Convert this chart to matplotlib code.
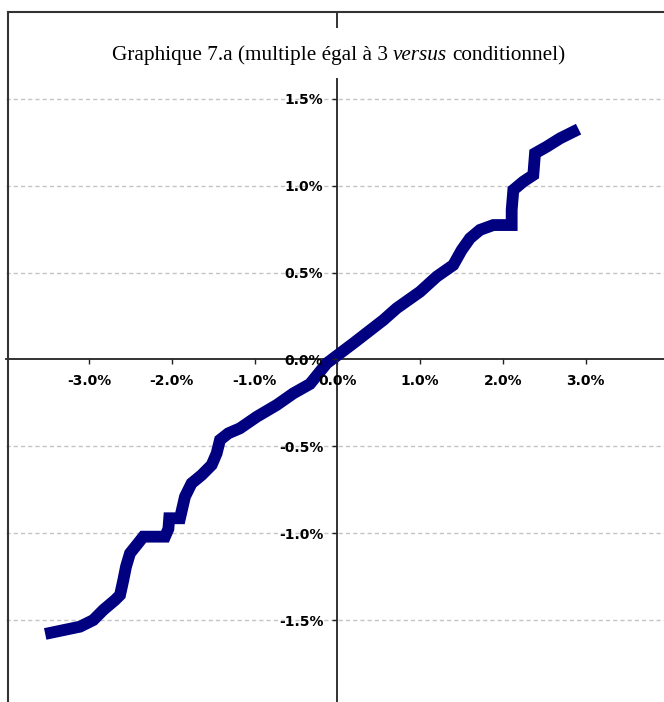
import matplotlib
matplotlib.use('Agg')
import matplotlib.pyplot as plt
from matplotlib.lines import Line2D
from matplotlib.patches import Rectangle

# ---------------- data (percent) ----------------
curve_x = [-3.458, -3.107, -2.947, -2.826, -2.685, -2.624, -2.584, -2.552, -2.504,
           -2.423, -2.343, -2.081, -2.040, -2.030, -1.900, -1.840, -1.760, -1.638,
           -1.517, -1.457, -1.417, -1.316, -1.175, -0.974, -0.732, -0.531,
           -0.330, -0.128, 0.193, 0.556, 0.717, 0.999, 1.200, 1.401, 1.502, 1.603,
           1.723, 1.884, 2.106, 2.106, 2.126, 2.246, 2.367, 2.388, 2.529, 2.690, 2.850]
curve_y = [-1.573, -1.538, -1.500, -1.442, -1.385, -1.356, -1.269, -1.193, -1.116,
           -1.068, -1.020, -1.020, -0.975, -0.914, -0.914, -0.790, -0.713, -0.665,
           -0.607, -0.540, -0.463, -0.425, -0.396, -0.330, -0.262, -0.195,
           -0.141, -0.022, 0.093, 0.227, 0.295, 0.390, 0.477, 0.544, 0.630, 0.698,
           0.746, 0.774, 0.774, 0.861, 0.976, 1.024, 1.062, 1.187, 1.225, 1.273, 1.311]
x_ticks = [-3.0, -2.0, -1.0, 0.0, 1.0, 2.0, 3.0]
y_ticks = [-1.5, -1.0, -0.5, 0.0, 0.5, 1.0, 1.5]
x_labels = ["-3.0%", "-2.0%", "-1.0%", "0.0%", "1.0%", "2.0%", "3.0%"]
y_labels = ["-1.5%", "-1.0%", "-0.5%", "0.0%", "0.5%", "1.0%", "1.5%"]
title_parts = [("Graphique 7.a (multiple égal à 3", "normal"),
               ("versus", "italic"),
               ("conditionnel)", "normal")]

# ---------------- layout ----------------
W, H = 664, 702
fig = plt.figure(figsize=(W / 100, H / 100), dpi=100)
fig.patch.set_facecolor('white')


def fx(px):
    return px / W


def fy(py):
    return 1 - py / H


x0px, sx = 337.3, 82.8
y0px, sy = 359.5, 173.7
xlim = (-4, 4)
ylim = (-2, 2)
left = x0px + xlim[0] * sx
right = x0px + xlim[1] * sx
top = y0px - ylim[1] * sy
bottom = y0px - ylim[0] * sy
ax = fig.add_axes([fx(left), fy(bottom), (right - left) / W, (bottom - top) / H])
ax.set_xlim(*xlim)
ax.set_ylim(*ylim)
ax.patch.set_alpha(0)

for s in ['top', 'right']:
    ax.spines[s].set_visible(False)
ax.spines['left'].set_position(('data', 0))
ax.spines['bottom'].set_position(('data', 0))
for s in ['left', 'bottom']:
    ax.spines[s].set_color('#222222')
    ax.spines[s].set_linewidth(1.3)
    ax.spines[s].set_zorder(1.8)

# grid (manual, under the curve)
for v in y_ticks:
    if v != 0:
        ax.axhline(v, color='#c4c4c4', lw=1.0, dashes=(3.0, 2.2), zorder=1)

ax.plot(curve_x, curve_y, color='#000080', lw=8.5,
        solid_capstyle='projecting', solid_joinstyle='miter', zorder=2)

ax.set_xticks(x_ticks)
ax.set_xticklabels(x_labels)
ax.set_yticks(y_ticks)
ax.set_yticklabels(y_labels)
ax.tick_params(axis='both', direction='out', length=3.6, width=1.0,
               color='#222222', labelsize=10, pad=6.5)
for lab in ax.get_xticklabels() + ax.get_yticklabels():
    lab.set_fontweight('bold')
    lab.set_family('DejaVu Sans')
ax.xaxis.set_zorder(3)
ax.yaxis.set_zorder(3)

# title box hiding the axis
fig.add_artist(Rectangle((fx(25), fy(78)), (652 - 25) / W, 50 / H,
                         transform=fig.transFigure, facecolor='white',
                         edgecolor='none', zorder=5))

# outer frame
fig.add_artist(Line2D([fx(8.3), 1.0], [fy(12), fy(12)], color='#333333', lw=1.5,
                      transform=fig.transFigure, zorder=10))
fig.add_artist(Line2D([fx(8.3), fx(8.3)], [fy(12), 0.0], color='#333333', lw=1.5,
                      transform=fig.transFigure, zorder=10))

# title in parts (italic "versus")
renderer = fig.canvas.get_renderer()
fs = 15.3
fam = 'Liberation Serif'


def text_w(s, style):
    t = fig.text(0, 0, s, fontsize=fs, family=fam, style=style)
    w = t.get_window_extent(renderer).width
    t.remove()
    return w


space = text_w("x x", "normal") - text_w("xx", "normal")
widths = [text_w(s, st) for s, st in title_parts]
total = sum(widths) + space * (len(title_parts) - 1)
cx = 338.5
xpos = cx - total / 2
for (s, st), w in zip(title_parts, widths):
    fig.text(fx(xpos), fy(60), s, fontsize=fs, family=fam, style=st,
             ha='left', va='baseline', zorder=6)
    xpos += w + space

fig.savefig('out.png', dpi=100)
